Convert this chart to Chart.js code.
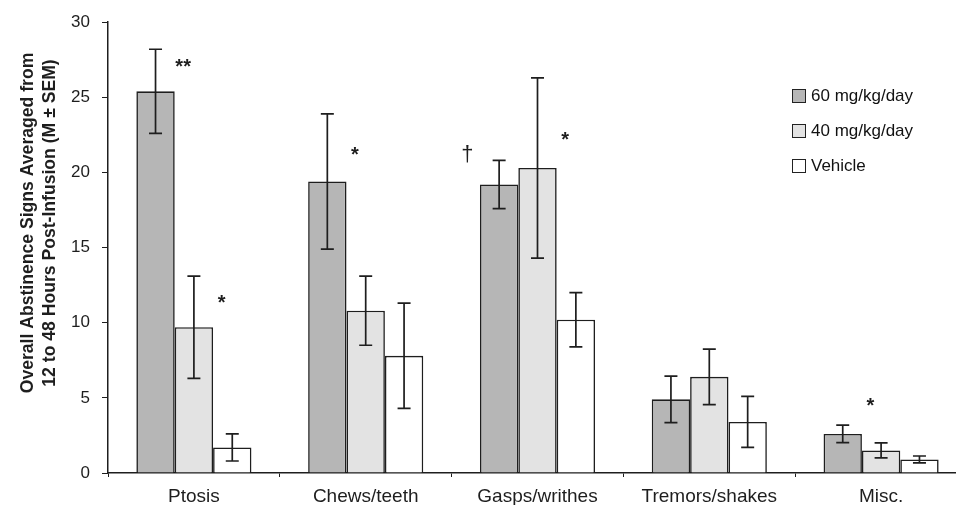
<!DOCTYPE html>
<html>
<head>
<meta charset="utf-8">
<script src="https://cdn.jsdelivr.net/npm/chart.js@4"></script>
<style>
  html, body { margin: 0; padding: 0; background: #fff; overflow: hidden; }
  #wrap { position: relative; width: 956px; height: 505px; overflow: hidden; }
  #legend { position: absolute; left: 792px; top: 78px; font: 17px "Liberation Sans", Arial, sans-serif; color: #111; }
  #legend div { display: flex; align-items: center; height: 35px; }
  #legend span.box { width: 12px; height: 12px; border: 1.5px solid #222; margin-right: 5px; box-sizing: content-box; }
</style>
</head>
<body>
<div id="wrap">
  <canvas id="chart" width="967" height="505"></canvas>
  <div id="legend"></div>
</div>
<script>
// ---- Data ----
const categories = ['Ptosis', 'Chews/teeth', 'Gasps/writhes', 'Tremors/shakes', 'Misc.'];
const seriesNames = ['60 mg/kg/day', '40 mg/kg/day', 'Vehicle'];
const mg60 = [25.4, 19.4, 19.2, 4.9, 2.6];
const mg60Sem = [2.8, 4.5, 1.6, 1.55, 0.58];
const mg40 = [9.7, 10.8, 20.3, 6.4, 1.5];
const mg40Sem = [3.4, 2.3, 6.0, 1.85, 0.5];
const vehicle = [1.7, 7.8, 10.2, 3.4, 0.9];
const vehicleSem = [0.9, 3.5, 1.8, 1.7, 0.23];
const yTicks = [0, 5, 10, 15, 20, 25, 30];
// significance marks: category, bar it sits beside, value height
const sigCat = [0, 0, 1, 2, 2, 4];
const sigSeries = [0, 1, 0, 0, 1, 0];
const sigValue = [27.3, 11.6, 21.4, 21.2, 22.4, 4.7];
const sigText = ['**', '*', '*', '†', '*', '*'];

const fills = ['#b6b6b6', '#e3e3e3', '#ffffff'];
const INK = '#1e1e1e';
const FONT = '"Liberation Sans", Arial, sans-serif';

// ---- Legend (HTML) ----
document.getElementById('legend').innerHTML = seriesNames.map((n, i) =>
  `<div><span class="box" style="background:${fills[i]}"></span>${n}</div>`).join('');

// ---- Plugins ----
const errorBars = {
  id: 'errorBars',
  afterDatasetsDraw(chart) {
    const { ctx, scales: { y } } = chart;
    ctx.save();
    ctx.strokeStyle = INK; ctx.lineWidth = 1.7;
    chart.data.datasets.forEach((ds, di) => {
      const meta = chart.getDatasetMeta(di);
      meta.data.forEach((bar, i) => {
        const v = ds.data[i], e = ds.sem[i];
        const top = y.getPixelForValue(v + e), bot = y.getPixelForValue(v - e);
        ctx.beginPath();
        ctx.moveTo(bar.x, top); ctx.lineTo(bar.x, bot);
        ctx.moveTo(bar.x - 6.5, top); ctx.lineTo(bar.x + 6.5, top);
        ctx.moveTo(bar.x - 6.5, bot); ctx.lineTo(bar.x + 6.5, bot);
        ctx.stroke();
      });
    });
    // significance marks, ink centred on the target point
    ctx.fillStyle = INK; ctx.textAlign = 'center'; ctx.textBaseline = 'alphabetic';
    sigText.forEach((t, k) => {
      const bar = chart.getDatasetMeta(sigSeries[k]).data[sigCat[k]];
      const dagger = t === '†';
      const shift = dagger ? -0.83 * bar.width : 0.72 * bar.width;
      ctx.font = (dagger ? '22px ' : 'bold 20px ') + FONT;
      const m = ctx.measureText(t);
      const py = y.getPixelForValue(sigValue[k]) + (m.actualBoundingBoxAscent - m.actualBoundingBoxDescent) / 2;
      ctx.fillText(t, bar.x + shift, py);
    });
    ctx.restore();
  }
};

const yTitle = {
  id: 'yTitle',
  afterDraw(chart) {
    const { ctx } = chart;
    ctx.save();
    ctx.fillStyle = INK; ctx.font = 'bold 17.6px ' + FONT;
    ctx.textAlign = 'center'; ctx.textBaseline = 'middle';
    ctx.translate(0, 223); ctx.rotate(-Math.PI / 2);
    ctx.fillText('Overall Abstinence Signs Averaged from', 0, 28.5);
    ctx.fillText('12 to 48 Hours Post-Infusion (M ± SEM)', 0, 50);
    ctx.restore();
  }
};

// ---- Chart ----
new Chart(document.getElementById('chart'), {
  type: 'bar',
  data: {
    labels: categories,
    datasets: [mg60, mg40, vehicle].map((d, i) => ({
      label: seriesNames[i], data: d, sem: [mg60Sem, mg40Sem, vehicleSem][i],
      backgroundColor: fills[i], borderColor: INK, borderWidth: 1.6,
      barPercentage: 1.0, categoryPercentage: 0.67,
    })),
  },
  options: {
    responsive: false, animation: false,
    layout: { padding: { top: 22, left: 0, right: 0, bottom: 0 } },
    plugins: { legend: { display: false }, tooltip: { enabled: false } },
    scales: {
      x: {
        afterFit: (s) => { s.height = 32; },
        grid: { offset: true, drawOnChartArea: false, tickLength: 4, color: INK },
        border: { color: INK, width: 1.5 },
        ticks: { color: INK, font: { family: FONT, size: 19 }, padding: 8 },
      },
      y: {
        min: 0, max: 30,
        afterFit: (s) => { s.width = 108; },
        afterBuildTicks: (s) => { s.ticks = yTicks.map((v) => ({ value: v })); },
        grid: { drawOnChartArea: false, tickLength: 6, color: INK },
        border: { color: INK, width: 1.5 },
        ticks: { color: INK, font: { family: FONT, size: 17 }, padding: 12 },
      },
    },
  },
  plugins: [errorBars, yTitle],
});
</script>
</body>
</html>
